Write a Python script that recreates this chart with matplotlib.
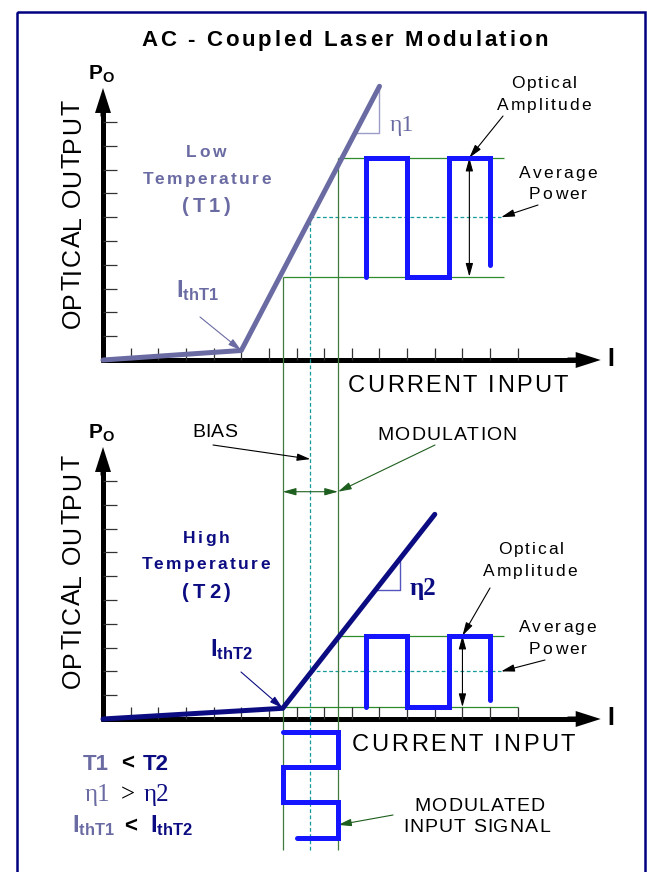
import numpy as np
import matplotlib
matplotlib.use('Agg')
import matplotlib.pyplot as plt
import matplotlib.transforms as mtransforms
from matplotlib.patches import Rectangle
from matplotlib.font_manager import FontProperties

# ---- data: current and optical output both in tick units ----
I_TICKS = np.arange(1, 16)
P_TICKS = np.arange(1, 11)
I_AXIS_END = 18.0
P_AXIS_END = 11.43

# L-I curves (current, optical output)
LOW_T_I = [0, 5, 10]
LOW_T_P = [0, 0.4, 11.5]
HIGH_T_I = [0, 6.5, 12]
HIGH_T_P = [0, 0.45, 8.6]

# drive current
MOD_LO = 6.5
BIAS = 7.5
MOD_HI = 8.5

# optical output levels: low, average, high
LOW_T_LEVELS = [3.5, 6.0, 8.5]
HIGH_T_LEVELS = [0.5, 2.0, 3.5]

# optical output square wave (position along current axis, state 0..1)
WAVE_I = [9.5, 9.5, 11, 11, 12.5, 12.5, 14, 14]
WAVE_STATE = [0, 1, 1, 0, 0, 1, 1, 0.1]

# modulated input current (time runs downwards below the axis)
IN_TIME = [0.55, 0.55, 2.0, 2.0, 3.5, 3.5, 5.0, 5.0]
IN_STATE = [0, 1, 1, 0, 0, 1, 1, 0.25]
GUIDE_BOTTOM = -5.5

# slope triangles (corner point)
ETA1_CORNER = (10.0, 9.55)
ETA2_CORNER = (10.75, 5.4)

SLATE = '#6B6BA3'
NAVY = '#0C0C82'
BLUE = '#1515FF'
GREEN = '#2E8B2E'
GUIDE = '#3F7A3F'
DKGREEN = '#1E5E1E'
TEAL = '#179A9A'

W, H = 647, 872
PX_I, PX_P = 27.65, 23.8      # pixels per tick unit
X0, Y0 = 103, 719            # origin of lower chart in pixels
TOP = (Y0 - 360) / PX_P      # offset of upper chart

plt.rcParams['font.family'] = ['Liberation Sans', 'DejaVu Sans']
plt.rcParams['mathtext.fontset'] = 'custom'
plt.rcParams['mathtext.bf'] = 'Liberation Sans:bold'
plt.rcParams['mathtext.rm'] = 'Liberation Sans'

fig = plt.figure(figsize=(W / 100, H / 100), dpi=100)
ax = fig.add_axes([0, 0, 1, 1])
ax.set_xlim(-X0 / PX_I, (W - X0) / PX_I)
ax.set_ylim((Y0 - H) / PX_P, Y0 / PX_P)
ax.axis('off')

# pixel coords (top-left origin) for labels
PIX = mtransforms.Affine2D().scale(1 / W, -1 / H).translate(0, 1) + fig.transFigure

fig.patches.append(Rectangle((17, 12), 628, 880, transform=PIX, fill=False,
                             ec='#000080', lw=1.8))


def thin_arrow(xy, tail, color='k', lw=0.8):
    ax.annotate('', xy=xy, xycoords='data', xytext=tail, textcoords=PIX,
                arrowprops=dict(arrowstyle='-|>,head_length=0.8,head_width=0.22',
                                color=color, lw=lw, shrinkA=0, shrinkB=0,
                                mutation_scale=10))


def draw_axes(base):
    ax.plot([0, 0], [base - 0.1, base + P_AXIS_END - 0.8], color='k', lw=3.6,
            solid_capstyle='butt')
    ax.plot([-0.09, I_AXIS_END - 0.8], [base, base], color='k', lw=3.6,
            solid_capstyle='butt')
    head = 'simple,head_length=1.8,head_width=1.15,tail_width=0.36'
    ax.annotate('', xy=(0, base + P_AXIS_END), xytext=(0, base + P_AXIS_END - 1.2),
                arrowprops=dict(arrowstyle=head, fc='k', lw=0, shrinkA=0,
                                shrinkB=0, mutation_scale=10))
    ax.annotate('', xy=(I_AXIS_END, base), xytext=(I_AXIS_END - 1.2, base),
                arrowprops=dict(arrowstyle=head, fc='k', lw=0, shrinkA=0,
                                shrinkB=0, mutation_scale=10))
    ax.hlines(base + P_TICKS, 0, 0.5, color='#333333', lw=0.9)
    ax.vlines(I_TICKS, base, base + 0.5, color='#333333', lw=0.9)


def slope_triangle(curve_i, curve_p, corner, base, color):
    cx, cy = corner
    x_on = np.interp(cy, curve_p, curve_i)
    y_on = np.interp(cx, curve_i, curve_p)
    ax.plot([x_on, cx, cx], [base + cy, base + cy, base + y_on], color=color, lw=1.0)


def chart(base, curve_i, curve_p, levels, color, lo_end):
    lo, avg, hi = levels
    ax.hlines(base + hi, MOD_HI, 14.5, color=GREEN, lw=0.9)
    ax.hlines(base + lo, MOD_LO, lo_end, color=GREEN, lw=0.9)
    ax.hlines(base + avg, BIAS, 14.4, color=TEAL, lw=0.9, linestyles=(0, (3, 2)))
    draw_axes(base)
    ax.plot(curve_i, np.array(curve_p) + base, color=color, lw=3.6,
            solid_capstyle='round', solid_joinstyle='round', zorder=4)
    wave = lo + np.array(WAVE_STATE) * (hi - lo)
    ax.plot(WAVE_I, base + wave, color=BLUE, lw=3.6, solid_capstyle='round',
            solid_joinstyle='miter', zorder=4)


chart(TOP, LOW_T_I, LOW_T_P, LOW_T_LEVELS, SLATE, 14.5)
chart(0, HIGH_T_I, HIGH_T_P, HIGH_T_LEVELS, NAVY, 15)
slope_triangle(LOW_T_I, LOW_T_P, ETA1_CORNER, TOP, '#9C9CCB')
slope_triangle(HIGH_T_I, HIGH_T_P, ETA2_CORNER, 0, '#5555C0')

# guide lines from the top chart down through the input signal
ax.vlines(MOD_LO, GUIDE_BOTTOM, TOP + LOW_T_LEVELS[0], color=GUIDE, lw=0.9)
ax.vlines(MOD_HI, GUIDE_BOTTOM, TOP + LOW_T_LEVELS[2], color=GUIDE, lw=0.9)
ax.vlines(BIAS, GUIDE_BOTTOM, TOP + LOW_T_LEVELS[1], color=TEAL, lw=0.9,
          linestyles=(0, (3, 2)))

# input signal
in_i = MOD_LO + np.array(IN_STATE) * (MOD_HI - MOD_LO)
ax.plot(in_i, -np.array(IN_TIME), color=BLUE, lw=3.6, solid_capstyle='round',
        solid_joinstyle='miter', zorder=4)

# amplitude arrows
for x, base, (lo, avg, hi) in [(13.25, TOP, LOW_T_LEVELS), (13.0, 0, HIGH_T_LEVELS)]:
    ax.annotate('', xy=(x, base + hi), xytext=(x, base + lo),
                arrowprops=dict(arrowstyle='<|-|>,head_length=0.8,head_width=0.22',
                                color='k', lw=0.8, shrinkA=0, shrinkB=0,
                                mutation_scale=10))

# bias / modulation span arrow
MOD_ARROW_Y = 9.55
ax.annotate('', xy=(MOD_HI, MOD_ARROW_Y), xytext=(MOD_LO, MOD_ARROW_Y),
            arrowprops=dict(arrowstyle='<|-|>,head_length=0.8,head_width=0.22',
                            color=DKGREEN, lw=0.8, shrinkA=0, shrinkB=0,
                            mutation_scale=10))

# ---- texts ----
renderer = fig.canvas.get_renderer()


def label(x, y, s, **kw):
    kw.setdefault('ha', 'center')
    kw.setdefault('va', 'center')
    ax.text(x, y, s, transform=PIX, **kw)


def spaced(x0, x1, y, s, size, weight='normal', color='k', vertical=False):
    """letter-spaced text filling x0..x1 (pixels) on baseline y"""
    prop = FontProperties(family='Liberation Sans', size=size, weight=weight)

    def width(t):
        return renderer.get_text_width_height_descent(t, prop, ismath=False)[0]

    track = (abs(x1 - x0) - width(s)) / (len(s) - 1)
    for i, ch in enumerate(s):
        if ch == ' ':
            continue
        off = width(s[:i + 1]) - width(ch) + i * track
        if vertical:
            ax.text(y, x0 - off, ch, transform=PIX, fontproperties=prop, color=color,
                    ha='left', va='baseline', rotation=90, rotation_mode='anchor')
        else:
            ax.text(x0 + off, y, ch, transform=PIX, fontproperties=prop, color=color,
                    ha='left', va='baseline')


spaced(141, 548, 46, 'AC - Coupled Laser Modulation', 16, 'bold')

spaced(328, 100, 80, 'OPTICAL OUTPUT', 18, vertical=True)
spaced(688, 455, 80, 'OPTICAL OUTPUT', 18, vertical=True)
spaced(348, 568, 392, 'CURRENT INPUT', 17)
spaced(352, 575, 751, 'CURRENT INPUT', 17)
label(607, 359, 'I', fontsize=18, fontweight='bold', ha='left')
label(607, 718, 'I', fontsize=18, fontweight='bold', ha='left')

label(88, 80, r'$\mathbf{P_O}$', fontsize=15, ha='left', va='baseline')
label(88, 439, r'$\mathbf{P_O}$', fontsize=15, ha='left', va='baseline')

spaced(186, 226, 157, 'Low', 12.5, 'bold', SLATE)
spaced(143, 271, 184, 'Temperature', 12.5, 'bold', SLATE)
spaced(182, 231, 212, '(T1)', 14.5, 'bold', SLATE)
spaced(183, 229, 543, 'High', 12.5, 'bold', NAVY)
spaced(142, 270, 569, 'Temperature', 12.5, 'bold', NAVY)
spaced(182, 231, 598, '(T2)', 14.5, 'bold', NAVY)

label(176, 297, r'$\mathbf{I_{thT1}}$', fontsize=17, color=SLATE, ha='left', va='baseline')
thin_arrow((LOW_T_I[1], TOP + LOW_T_P[1]), (200, 317), color=SLATE)
label(210, 656, r'$\mathbf{I_{thT2}}$', fontsize=17, color=NAVY, ha='left', va='baseline')
thin_arrow((HIGH_T_I[1], HIGH_T_P[1]), (241, 672), color=NAVY)

label(402, 125, 'η1', fontsize=17, color=SLATE, family='Liberation Serif')
label(423, 588, 'η2', fontsize=18, color=NAVY, family='Liberation Serif',
      fontweight='bold')

# optical amplitude / average power
spaced(511, 577, 88, 'Optical', 12.5)
spaced(497, 591, 110, 'Amplitude', 12.5)
thin_arrow((13.25, TOP + LOW_T_LEVELS[2]), (503, 116))
spaced(519, 597, 178, 'Average', 12.5)
spaced(529, 587, 199, 'Power', 12.5)
thin_arrow((14.4, TOP + LOW_T_LEVELS[1]), (538, 205))

spaced(498, 564, 554, 'Optical', 12.5)
spaced(483, 577, 576, 'Amplitude', 12.5)
thin_arrow((13.0, HIGH_T_LEVELS[2]), (490, 588))
spaced(519, 596, 632, 'Average', 12.5)
spaced(529, 587, 654, 'Power', 12.5)
thin_arrow((14.4, HIGH_T_LEVELS[1]), (545, 660))

spaced(192, 237, 437, 'BIAS', 14)
thin_arrow((BIAS, 10.92), (213, 445))
spaced(377, 517, 440, 'MODULATION', 14)
thin_arrow((MOD_HI, MOD_ARROW_Y), (435, 445), color=DKGREEN)
spaced(414, 545, 811, 'MODULATED', 14)
spaced(403, 550, 832, 'INPUT SIGNAL', 14)
thin_arrow((MOD_HI, -4.45), (393, 815), color=DKGREEN)

# summary
label(83, 764, 'T1', fontsize=16, fontweight='bold', color=SLATE, ha='left')
label(121, 764, '<', fontsize=16, fontweight='bold', ha='left')
label(143, 764, 'T2', fontsize=16, fontweight='bold', color=NAVY, ha='left')
serif = dict(fontsize=18, family='Liberation Serif', ha='left', va='baseline')
label(85, 801, 'η1', color=SLATE, **serif)
label(121, 801, '>', **serif)
label(144, 801, 'η2', color=NAVY, **serif)
label(72, 832, r'$\mathbf{I_{thT1}}$', fontsize=17, color=SLATE, ha='left', va='baseline')
label(124, 832, '<', fontsize=16, fontweight='bold', ha='left', va='baseline')
label(150, 832, r'$\mathbf{I_{thT2}}$', fontsize=17, color=NAVY, ha='left', va='baseline')

fig.savefig('out.png', dpi=100)
